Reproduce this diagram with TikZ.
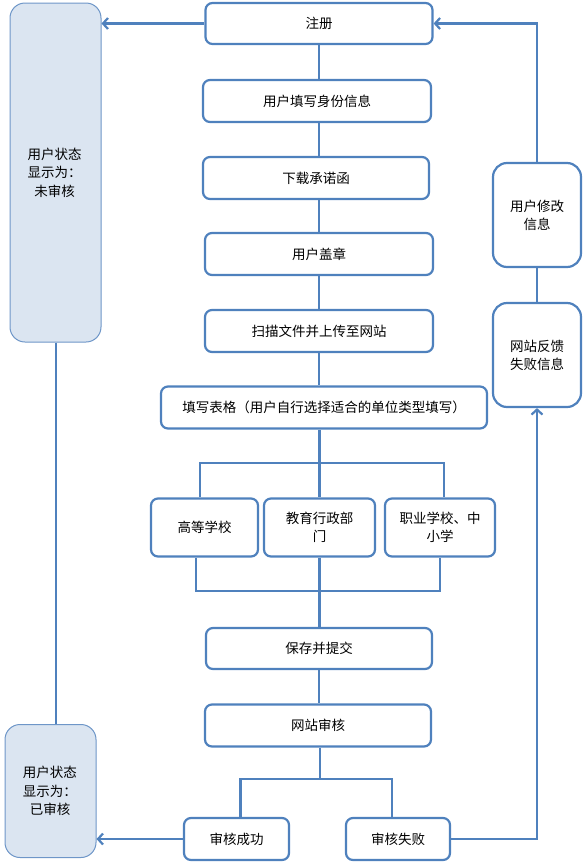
\documentclass[tikz,border=0pt]{standalone}
\usepackage{fontspec}
\newfontfamily\cjk{Noto Sans CJK SC}
\usetikzlibrary{arrows.meta}
\definecolor{bl}{RGB}{79,129,189}
\definecolor{lbfill}{RGB}{219,229,241}
\definecolor{lbline}{RGB}{110,150,200}
\tikzset{
  box/.style={draw=bl, line width=2.2pt, rounded corners=7pt, fill=white, inner sep=0pt,
    align=center, font=\cjk\fontsize{13.5}{18}\selectfont},
  sbox/.style={draw=lbline, line width=1pt, rounded corners=15pt, fill=lbfill, inner sep=0pt},
  stxt/.style={font=\cjk\fontsize{13.5}{18.5}\selectfont, align=center, inner sep=0pt},
  conn/.style={draw=bl, line width=2.2pt},
  arr/.style={conn, -{Straight Barb[length=5pt,width=11pt,line width=2.2pt]}}
}
\begin{document}
\begin{tikzpicture}[x=1pt,y=-1pt]
\useasboundingbox (0,0) rectangle (583,865);
% main chain
\node[box, minimum width=227, minimum height=41] (reg) at (319,23.5) {注册};
\node[box, minimum width=228, minimum height=42] (info) at (317,101) {用户填写身份信息};
\node[box, minimum width=226, minimum height=42] (dl) at (316,178) {下载承诺函};
\node[box, minimum width=228, minimum height=42] (seal) at (319,254) {用户盖章};
\node[box, minimum width=228, minimum height=42] (scan) at (319,331) {扫描文件并上传至网站};
\node[box, minimum width=326, minimum height=42] (form) at (324,407.5) {填写表格（用户自行选择适合的单位类型填写）};
\node[box, minimum width=107, minimum height=58] (gd) at (204.5,527.5) {高等学校};
\node[box, minimum width=111, minimum height=58] (jy) at (319.5,527.5) {教育行政部\\门};
\node[box, minimum width=110, minimum height=58] (zy) at (440,527.5) {职业学校、中\\小学};
\node[box, minimum width=226, minimum height=41] (save) at (319,648.5) {保存并提交};
\node[box, minimum width=226, minimum height=42] (audit) at (318,725.5) {网站审核};
\node[box, minimum width=105, minimum height=42] (ok) at (236.5,839) {审核成功};
\node[box, minimum width=104, minimum height=42] (fail) at (398,839) {审核失败};
% right side
\node[box, rounded corners=14pt, minimum width=88, minimum height=104] (fb) at (537,355) {网站反馈\\失败信息};
\node[box, rounded corners=14pt, minimum width=88, minimum height=104] (mod) at (537,215) {用户修改\\信息};
% left status boxes
\node[sbox, minimum width=91, minimum height=339] (L1) at (55.5,172.5) {};
\node[stxt] (L1t) at (54.5,172.5) {用户状态\\显示为：\\未审核};
\node[sbox, minimum width=91, minimum height=133] (L2) at (50.5,791) {};
\node[stxt] (L2t) at (50,791) {用户状态\\显示为：\\已审核};
% chain connectors
\draw[conn] (reg.south) -- (reg.south |- info.north);
\draw[conn] (info.south -| reg.south) -- (dl.north -| reg.south);
\draw[conn] (dl.south -| reg.south) -- (seal.north);
\draw[conn] (seal.south) -- (scan.north);
\draw[conn] (scan.south) -- (scan.south |- form.north);
% branch to unit types
\coordinate (bt) at (319,463);
\draw[conn] (form.south -| jy.north) -- (jy.north);
\draw[conn] ([xshift=-4.5pt]gd.north) |- (bt) -| ([xshift=4pt]zy.north);
\coordinate (bb) at (320,591);
\draw[conn] ([xshift=-8.5pt]gd.south) |- (bb) -| (zy.south);
\draw[conn] (jy.south) -- (jy.south |- save.north);
\draw[conn] (save.south) -- (save.south |- audit.north);
% audit branch
\coordinate (ab) at (320,779);
\draw[conn] (audit.south -| ab) -- (ab);
\draw[conn] ([xshift=4pt]ok.north) |- (ab) -| ([xshift=-6pt]fail.north);
% feedback loop
\draw[arr] (fail.east) -| (fb.south);
\draw[conn] (fb.north) -- (mod.south);
\draw[arr] (mod.north) |- (reg.east);
% status arrows
\draw[arr] (reg.west) -- (reg.west -| L1.east);
\draw[conn, line width=2pt] (L1.south) -- (L1.south |- L2.north);
\draw[arr] (ok.west) -- (ok.west -| L2.east);
\end{tikzpicture}
\end{document}
